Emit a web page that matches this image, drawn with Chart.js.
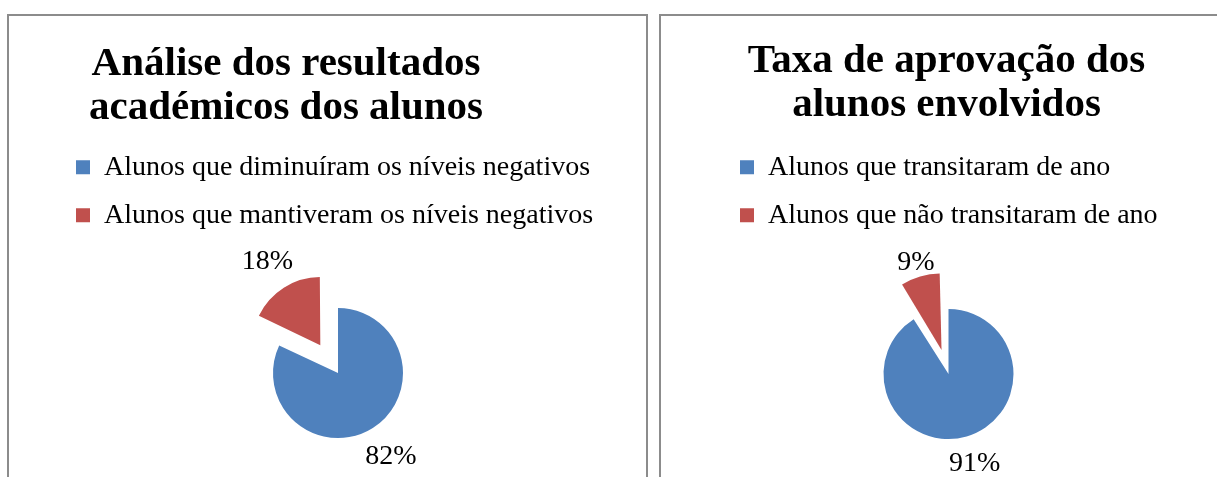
<!DOCTYPE html>
<html>
<head>
<meta charset="utf-8">
<script src="https://cdn.jsdelivr.net/npm/chart.js@4.4.1/dist/chart.umd.min.js"></script>
<style>
  html, body { margin: 0; padding: 0; background: #fff; overflow: hidden; width: 1217px; height: 477px; }
  .panel { position: absolute; border: 2px solid #8c8c8c; box-sizing: border-box; height: 520px; }
  #p1 { left: 7px; top: 14px; width: 641px; }
  #p2 { left: 659px; top: 14px; width: 700px; }
  canvas { position: absolute; }
  #c1 { left: 9px; top: 16px; }
  #c2 { left: 661px; top: 16px; }
</style>
</head>
<body>
<div class="panel" id="p1"></div>
<div class="panel" id="p2"></div>
<canvas id="c1" width="637" height="491" style="width:637px;height:491px"></canvas>
<canvas id="c2" width="556" height="493" style="width:556px;height:493px"></canvas>
<script>
(function () {
    'use strict';

    /* ── Dados ───────────────────────────────────────────── */
    var titulo1     = ['Análise dos resultados', 'académicos dos alunos'];
    var categorias1 = ['Alunos que diminuíram os níveis negativos', 'Alunos que mantiveram os níveis negativos'];
    var valores1    = [82, 18];

    var titulo2     = ['Taxa de aprovação dos', 'alunos envolvidos'];
    var categorias2 = ['Alunos que transitaram de ano', 'Alunos que não transitaram de ano'];
    var valores2    = [91, 9];

    /* ── Cores Office ────────────────────────────────────── */
    var BLUE = '#4f81bd';
    var RED  = '#c0504d';
    var FONT = "'Liberation Serif', 'Times New Roman', serif";

    Chart.defaults.font.family = FONT;
    Chart.defaults.color = '#000';

    /* ── Plugin: desloca o título na horizontal ──────────── */
    var titleShift = {
        id: 'titleShift',
        afterLayout: function (chart, args, opts) {
            var dx = opts.dx || 0;
            if (chart.titleBlock && dx) {
                chart.titleBlock.left += dx;
                chart.titleBlock.right += dx;
            }
        }
    };

    /* ── Plugin: rótulos de percentagem fora das fatias ──── */
    var outsideLabels = {
        id: 'outsideLabels',
        afterDatasetsDraw: function (chart, args, opts) {
            var ctx = chart.ctx;
            var meta = chart.getDatasetMeta(0);
            var data = chart.data.datasets[0].data;
            var size = opts.size || 28;
            ctx.save();
            ctx.font = size + 'px ' + FONT;
            ctx.fillStyle = '#000';
            ctx.textAlign = 'center';
            ctx.textBaseline = 'middle';
            meta.data.forEach(function (arc, i) {
                var p = arc.getProps(['x', 'y', 'startAngle', 'endAngle', 'outerRadius'], true);
                var mid = (p.startAngle + p.endAngle) / 2;
                var cx = Math.cos(mid), cy = Math.sin(mid);
                var txt = data[i] + '%';
                var w = ctx.measureText(txt).width;
                var half = Math.abs(cx) * w / 2 + Math.abs(cy) * size * 0.38;
                // o ArcElement desenha o offset dividido por 4
                var d = p.outerRadius + (arc.options.offset || 0) / 4 + 11 + half;
                ctx.fillText(txt, p.x + cx * d, p.y + cy * d);
            });
            ctx.restore();
        }
    };

    function renderPie(id, titulo, labels, values, offsets, pad, titlePad, dx) {
        return new Chart(document.getElementById(id), {
            type: 'pie',
            data: {
                labels: labels,
                datasets: [{
                    data: values,
                    backgroundColor: [BLUE, RED],
                    borderWidth: 0,
                    offset: offsets,
                    radius: 65
                }]
            },
            options: {
                responsive: false,
                animation: false,
                layout: { padding: pad },
                plugins: {
                    title: {
                        display: true,
                        text: titulo,
                        font: { size: 41, weight: 'bold', lineHeight: 1.075 },
                        padding: titlePad
                    },
                    legend: {
                        position: 'top',
                        align: 'start',
                        labels: {
                            boxWidth: 14,
                            boxHeight: 14,
                            padding: 20,
                            font: { size: 28 }
                        }
                    },
                    tooltip: { enabled: false },
                    titleShift: { dx: dx },
                    outsideLabels: { size: 28 }
                }
            },
            plugins: [titleShift, outsideLabels]
        });
    }

    renderPie('c1', titulo1, categorias1, valores1, [0, 132],
        { left: 47, right: 26, top: 0, bottom: 0 }, { top: 26, bottom: 3 }, -52);
    renderPie('c2', titulo2, categorias2, valores2, [0, 100],
        { left: 59, right: 40, top: 0, bottom: 0 }, { top: 23, bottom: 6 }, -2);
})();
</script>
</body>
</html>
